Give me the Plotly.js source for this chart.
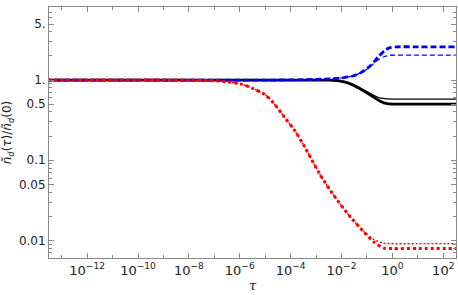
<!DOCTYPE html>
<html>
<head>
<meta charset="utf-8">
<script src="https://cdn.plot.ly/plotly-3.0.1.min.js"></script>
<style>html,body{margin:0;padding:0;background:#fff;}#chart{width:458px;height:295px;}</style>
</head>
<body>
<div id="chart"></div>
<script>
// Thick red dotted
const tauRed = [1e-14, 1e-12, 1e-10, 1e-9, 1e-8, 1e-7, 3.16e-7, 1e-6, 3.16e-6, 1e-5, 2.3e-5, 5.6e-5, 1.4e-4, 3.5e-4, 1.35e-3, 5.1e-3, 0.02, 0.078, 0.19, 0.47, 1, 10, 316];
const redThick = [1, 1, 1, 1, 0.997, 0.982, 0.95, 0.898, 0.789, 0.653, 0.50, 0.347, 0.237, 0.148, 0.068, 0.036, 0.0204, 0.0126, 0.0095, 0.0080, 0.0079, 0.0079, 0.0079];
// Thin red dotted
const tauRedThin = [1e-14, 1e-12, 1e-10, 1e-9, 1e-8, 1e-7, 3.16e-7, 1e-6, 3.16e-6, 1e-5, 2.3e-5, 5.6e-5, 1.4e-4, 3.5e-4, 1.35e-3, 5.1e-3, 0.02, 0.078, 0.19, 0.4, 0.8, 10, 316];
const redThin = [1, 1, 1, 1, 0.997, 0.982, 0.95, 0.898, 0.789, 0.653, 0.50, 0.347, 0.237, 0.148, 0.068, 0.036, 0.0204, 0.0127, 0.0102, 0.0093, 0.0091, 0.0091, 0.0091];
// Black solid
const tauBlack = [1e-14, 1e-10, 1e-6, 1e-4, 1e-3, 3.2e-3, 7.9e-3, 0.02, 0.05, 0.126, 0.316, 0.63, 1.58, 10, 316];
const blackThick = [1, 1, 1, 1, 1, 0.997, 0.977, 0.91, 0.79, 0.66, 0.55, 0.507, 0.501, 0.501, 0.501];
const blackThin = [1, 1, 1, 1, 1, 0.997, 0.978, 0.915, 0.81, 0.69, 0.60, 0.582, 0.579, 0.579, 0.579];
// Blue dashed
const tauBlue = [1e-14, 1e-10, 1e-7, 1e-5, 1e-4, 1e-3, 5e-3, 0.0126, 0.028, 0.056, 0.126, 0.28, 0.5, 0.79, 1.58, 10, 316];
const blueThick = [1, 1, 1, 1, 1.006, 1.02, 1.045, 1.075, 1.125, 1.23, 1.48, 1.95, 2.34, 2.54, 2.6, 2.6, 2.6];
const blueThin = [1, 1, 1, 1, 1.006, 1.02, 1.045, 1.075, 1.125, 1.23, 1.445, 1.80, 1.97, 2.04, 2.05, 2.05, 2.05];

const xTickVals = [1e-12, 1e-10, 1e-8, 1e-6, 1e-4, 1e-2, 1, 1e2];
const xTickText = ['10<sup>−12</sup>', '10<sup>−10</sup>', '10<sup>−8</sup>', '10<sup>−6</sup>', '10<sup>−4</sup>', '10<sup>−2</sup>', '10<sup>0</sup>', '10<sup>2</sup>'];
const xMinorVals = [1e-13, 1e-11, 1e-9, 1e-7, 1e-5, 1e-3, 1e-1, 1e1];
const yTickVals = [0.01, 0.05, 0.1, 0.5, 1, 5];
const yTickText = ['0.01', '0.05', '0.1', '0.5', '1.', '5.'];
const yMinorVals = [0.006, 0.007, 0.008, 0.009, 0.02, 0.03, 0.04, 0.06, 0.07, 0.08, 0.09, 0.2, 0.3, 0.4, 0.6, 0.7, 0.8, 0.9, 2, 3, 4, 6, 7, 8];

const sp = {shape: 'spline', smoothing: 0.8};
const traces = [
  {x: tauBlack, y: blackThin, mode: 'lines', line: Object.assign({color: '#000', width: 1.2}, sp)},
  {x: tauBlack, y: blackThick, mode: 'lines', line: Object.assign({color: '#000', width: 2.8}, sp)},
  {x: tauBlue, y: blueThin, mode: 'lines', line: Object.assign({color: '#0000ff', width: 1.3, dash: '5px,3px'}, sp)},
  {x: tauBlue, y: blueThick, mode: 'lines', line: Object.assign({color: '#0000ff', width: 2.8, dash: '6px,3px'}, sp)},
  {x: tauRedThin, y: redThin, mode: 'lines', line: Object.assign({color: '#ff0000', width: 1.4, dash: '2px,2px'}, sp)},
  {x: tauRed, y: redThick, mode: 'lines', line: Object.assign({color: '#ff0000', width: 3, dash: 'dot'}, sp)}
];

const axisCommon = {
  showline: true, linecolor: '#888', linewidth: 1, mirror: 'allticks',
  ticks: 'inside', tickcolor: '#888', ticklen: 5, tickwidth: 1,
  showgrid: false, zeroline: false,
  tickfont: {family: 'DejaVu Sans', size: 12, color: '#222'}
};

const layout = {
  width: 458, height: 295,
  margin: {l: 49, r: 2, t: 7, b: 37},
  paper_bgcolor: '#fff', plot_bgcolor: '#fff',
  showlegend: false,
  xaxis: Object.assign({}, axisCommon, {
    type: 'log', range: [-13.5, 2.5], automargin: false,
    tickmode: 'array', tickvals: xTickVals, ticktext: xTickText, tickangle: 0,
    tickfont: {family: 'DejaVu Sans', size: 13, color: '#222'},
    minor: {tickmode: 'array', tickvals: xMinorVals, ticks: 'inside', ticklen: 3, tickcolor: '#888'},
    title: {text: '<i>τ</i>', font: {family: 'DejaVu Serif', size: 13, color: '#222'}, standoff: 0}
  }),
  yaxis: Object.assign({}, axisCommon, {
    type: 'log', range: [-2.22, 0.912], automargin: false,
    tickmode: 'array', tickvals: yTickVals, ticktext: yTickText,
    minor: {tickmode: 'array', tickvals: yMinorVals, ticks: 'inside', ticklen: 3, tickcolor: '#888'},
    title: {text: '<i>ñ<sub>d</sub></i>(<i>τ</i>)/<i>ñ<sub>d</sub></i>(0)', font: {family: 'DejaVu Sans', size: 12, color: '#222'}, standoff: 4}
  })
};

Plotly.newPlot('chart', traces, layout, {displayModeBar: false, staticPlot: true});
</script>
</body>
</html>
